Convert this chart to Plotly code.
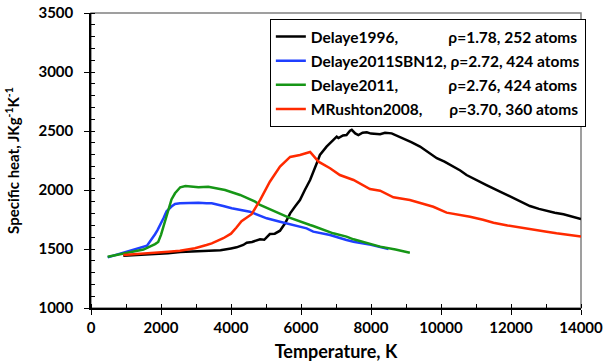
import plotly.graph_objects as go

# Delaye1996
t_black = [924, 1500, 2200, 2550, 3000, 3400, 3700, 4000, 4160, 4350, 4450, 4600, 4830, 4950, 5110,
           5250, 5400, 5550, 5690, 5830, 5970, 6110, 6260, 6450, 6540, 6730, 6830, 7020, 7070, 7200,
           7300, 7400, 7450, 7550, 7640, 7760, 7880, 8000, 8260, 8400, 8590, 8750, 8920, 9150, 9400,
           9650, 9880, 10100, 10350, 10550, 10730, 11000, 11300, 11700, 12070, 12300, 12540, 12800,
           13020, 13250, 13500, 13750, 14000]
c_black = [1443, 1452, 1463, 1475, 1480, 1486, 1490, 1505, 1514, 1534, 1553, 1560, 1582, 1578, 1627,
           1630, 1655, 1720, 1802, 1860, 1915, 2000, 2085, 2226, 2297, 2367, 2396, 2452, 2440, 2462,
           2466, 2503, 2510, 2480, 2466, 2485, 2489, 2478, 2472, 2485, 2480, 2460, 2438, 2405, 2368,
           2320, 2269, 2240, 2198, 2165, 2127, 2085, 2042, 1985, 1930, 1900, 1864, 1840,
           1822, 1808, 1794, 1775, 1754]

# Delaye2011SBN12
t_blue = [476, 971, 1500, 1600, 1830, 1900, 2070, 2160, 2300, 2400, 2540, 2800, 3070, 3300, 3450,
          3780, 4020, 4540, 5020, 5400, 5590, 6160, 6350, 6830, 7300, 7500, 8000, 8260, 8500]
c_blue = [1429, 1470, 1515, 1528, 1625, 1660, 1760, 1820, 1860, 1881, 1887, 1890, 1893, 1887, 1887,
          1864, 1845, 1816, 1760, 1731, 1718, 1675, 1647, 1619, 1576, 1562, 1535, 1520, 1500]

# Delaye2011
t_green = [476, 1000, 1500, 1830, 1920, 2000, 2150, 2300, 2400, 2550, 2700, 2900, 3070, 3350, 3600,
           3830, 4260, 4690, 4830, 5400, 5590, 6260, 6350, 6920, 7300, 7500, 8260, 8700, 9110]
c_green = [1435, 1465, 1495, 1542, 1560, 1620, 1780, 1920, 1972, 2023, 2034, 2025, 2023, 2028, 2015,
           2000, 1958, 1901, 1873, 1802, 1774, 1703, 1695, 1633, 1605, 1582, 1520, 1495, 1469]

# MRushton2008
t_red = [924, 1500, 2210, 2540, 2970, 3300, 3450, 3780, 4000, 4150, 4300, 4590, 4830, 5110, 5400, 5690,
         5970, 6260, 6500, 6830, 7110, 7500, 7970, 8260, 8640, 9110, 9500, 9780, 10160, 10500, 10830,
         11200, 11500, 11900, 12260, 12600, 13020, 13300, 13590, 14000]
c_red = [1450, 1460, 1477, 1486, 1506, 1534, 1548, 1591, 1630, 1680, 1735, 1795, 1915, 2070, 2198, 2280,
         2297, 2322, 2240, 2184, 2127, 2085, 2008, 1994, 1938, 1915, 1880, 1858, 1808, 1790, 1774,
         1748, 1723, 1700, 1681, 1665, 1647, 1633, 1619, 1605]

names = ["Delaye1996,\u2002\u2002\u2002\u2002\u2002\u2002 \u03c1=1.78, 252 atoms",
         "Delaye2011SBN12, \u03c1=2.72, 424 atoms",
         "Delaye2011,\u2002\u2002\u2002\u2002\u2002\u2002 \u03c1=2.76, 424 atoms",
         "MRushton2008,\u2002\u2002\u2002 \u03c1=3.70, 360 atoms"]
colors = ["#000000", "#1f3fff", "#169616", "#ff2a00"]
xs = [t_black, t_blue, t_green, t_red]
ys = [c_black, c_blue, c_green, c_red]

FONT = "Lato"
fig = go.Figure()
for i in range(4):
    fig.add_trace(go.Scatter(x=xs[i], y=ys[i], mode="lines", name=names[i],
                             legendgroup=str(i),
                             line=dict(color=colors[i], width=2.5)))

fig.update_layout(
    width=603, height=362,
    margin=dict(l=91, r=22, t=13, b=54, autoexpand=False),
    paper_bgcolor="white", plot_bgcolor="white",
    font=dict(family=FONT, size=15, color="black", weight="bold"),
    showlegend=True,
    legend=dict(x=0.365, y=0.98, xanchor="left", yanchor="top",
                bgcolor="white", bordercolor="black", borderwidth=1,
                font=dict(family=FONT, size=15.5, weight="bold"),
                tracegroupgap=1, traceorder="grouped", itemwidth=30),
    shapes=[dict(type="rect", xref="paper", yref="paper", x0=0, x1=1, y0=0, y1=1,
                 line=dict(color="#808080", width=1.5), layer="below")],
)
fig.update_xaxes(range=[0, 14000], dtick=2000, tick0=0, tickformat="d", showgrid=False, zeroline=False,
                 showline=True, linecolor="black", linewidth=1.5, automargin=False,
                 ticklabeloverflow="allow",
                 ticks="outside", ticklen=5, tickcolor="black",
                 minor=dict(dtick=1000, ticks="inside", ticklen=4, tickcolor="black"),
                 tickfont=dict(family=FONT, size=15, weight="bold"),
                 title=dict(text="Temperature, K", font=dict(family=FONT, size=18, weight="bold")))
fig.update_yaxes(range=[1000, 3500], dtick=500, tick0=1000, tickformat="d", showgrid=False, zeroline=False,
                 showline=True, linecolor="black", linewidth=1.5, automargin=False,
                 ticklabeloverflow="allow",
                 ticks="outside", ticklen=5, tickcolor="black",
                 minor=dict(dtick=100, ticks="inside", ticklen=4, tickcolor="black"),
                 tickfont=dict(family=FONT, size=15, weight="bold"),
                 ticklabelstandoff=8,
                 title=dict(text="Specific heat, JKg<sup>-1</sup>K<sup>-1</sup>",
                            font=dict(family=FONT, size=15, weight="bold")))

fig.write_html("out.html")
